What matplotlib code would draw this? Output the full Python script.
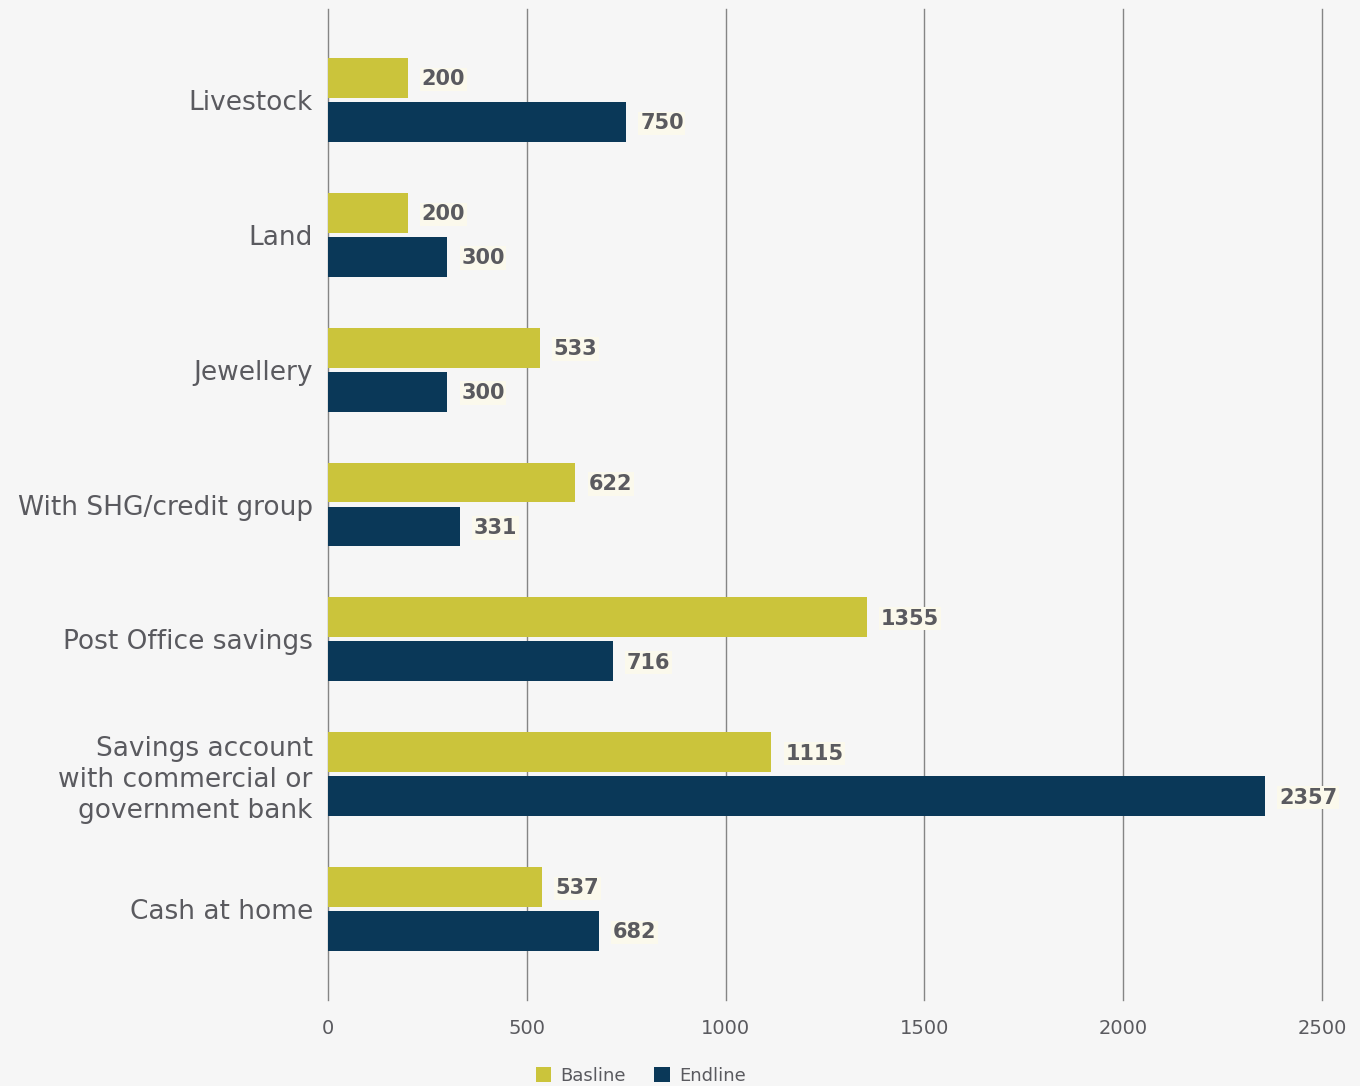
import matplotlib
matplotlib.use("Agg")
import matplotlib.pyplot as plt
from matplotlib.patches import Patch
import numpy as np

categories = [
    "Livestock",
    "Land",
    "Jewellery",
    "With SHG/credit group",
    "Post Office savings",
    "Savings account\nwith commercial or\ngovernment bank",
    "Cash at home",
]
baseline = [200, 200, 533, 622, 1355, 1115, 537]
endline = [750, 300, 300, 331, 716, 2357, 682]
x_ticks = [0, 500, 1000, 1500, 2000, 2500]
series_names = ["Basline", "Endline"]

BASE_COLOR = "#CBC43B"
END_COLOR = "#0A3858"
BG = "#F6F6F6"
TEXT = "#5A5A5F"

plt.rcParams["font.family"] = ["DejaVu Sans"]

fig = plt.figure(figsize=(13.6, 10.86), dpi=100, facecolor=BG)
ax = fig.add_axes([0.2412, 0.0792, 0.7309, 0.9125], facecolor=BG)

y = np.arange(len(categories))
h = 0.296
off = 0.163

ax.barh(y - off, baseline, height=h, color=BASE_COLOR, zorder=3)
ax.barh(y + off, endline, height=h, color=END_COLOR, zorder=3)

label_box = dict(boxstyle="square,pad=0.08", facecolor="#FBF9EC", edgecolor="none")
for yi, b, e in zip(y, baseline, endline):
    ax.annotate(f"{b}", (b, yi - off), xytext=(10, -1), textcoords="offset points",
                va="center", ha="left", fontsize=15, fontweight="bold", color=TEXT,
                bbox=label_box, zorder=4)
    ax.annotate(f"{e}", (e, yi + off), xytext=(10, -1), textcoords="offset points",
                va="center", ha="left", fontsize=15, fontweight="bold", color=TEXT,
                bbox=label_box, zorder=4)

ax.set_xlim(0, 2500)
ax.set_ylim(len(categories) - 1 + 0.674, -0.674)
ax.set_xticks(x_ticks)
ax.set_xticklabels([str(t) for t in x_ticks])
ax.set_yticks(y)
ax.set_yticklabels(categories, fontsize=19, color=TEXT, linespacing=1.25)
ax.tick_params(axis="x", length=0, pad=14, labelsize=14, labelcolor=TEXT)
ax.tick_params(axis="y", length=0, pad=11)
for lbl in ax.get_yticklabels():
    lbl.set_horizontalalignment("right")

ax.grid(axis="x", color="#858585", linewidth=1.0, zorder=0)
ax.grid(axis="y", visible=False)
for gl in ax.get_xgridlines():
    gl.set_clip_on(False)
for s in ax.spines.values():
    s.set_visible(False)

handles = [Patch(facecolor=BASE_COLOR, label=series_names[0]),
           Patch(facecolor=END_COLOR, label=series_names[1])]
fig.legend(handles=handles, loc="center", bbox_to_anchor=(0.471, 0.0095), ncol=2,
           frameon=False, fontsize=13, labelcolor=TEXT, handlelength=0.85,
           handleheight=0.85, handletextpad=0.5, columnspacing=1.6)

fig.savefig("out.png", dpi=100, facecolor=BG)
